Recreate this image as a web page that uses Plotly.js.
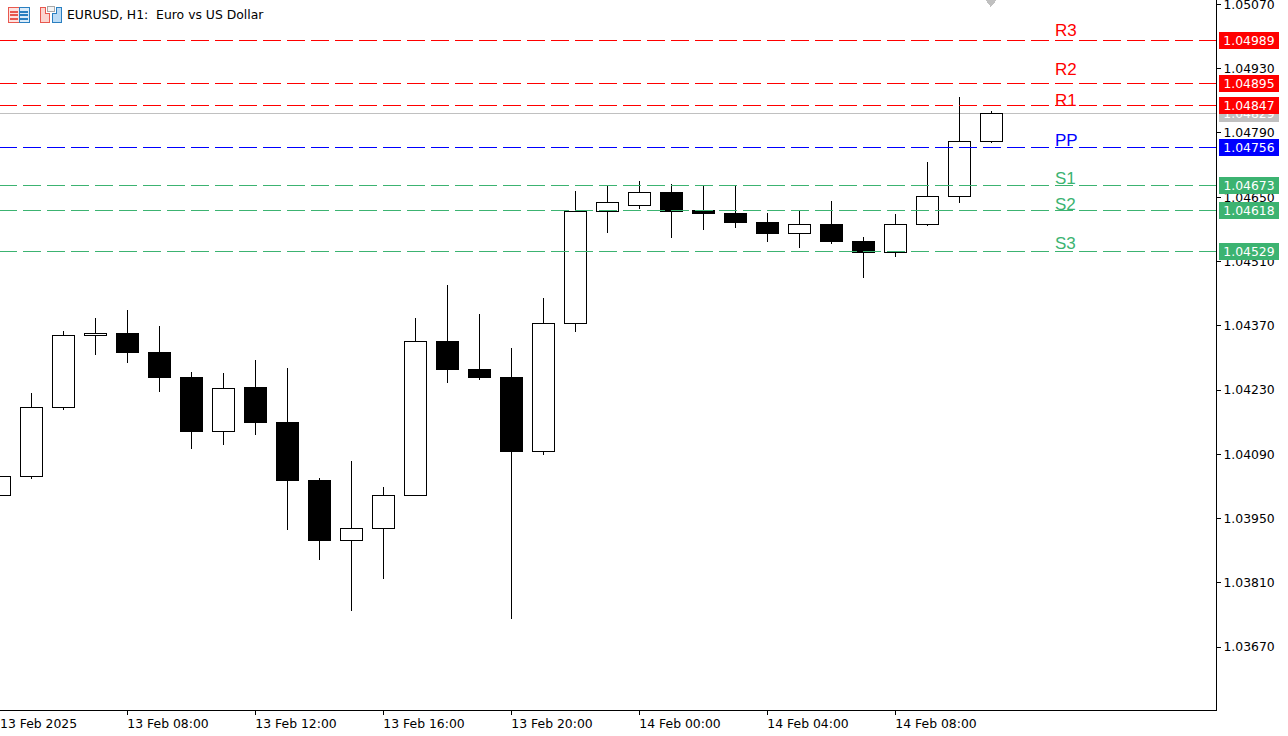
<!DOCTYPE html>
<html>
<head>
<meta charset="utf-8">
<script src="https://cdn.plot.ly/plotly-3.0.1.min.js"></script>
<style>
html,body{margin:0;padding:0;background:#fff;overflow:hidden}
#chart{width:1288px;height:736px}
#chart svg path,#chart svg line{shape-rendering:crispEdges}
#chart .boxlayer{transform:translate(.25px,.25px)}
#chart .yaxislayer-above{transform:translateY(1px)}
</style>
</head>
<body>
<div id="chart"></div>
<script>
// ---------- data ----------
const times = ["2025-02-13 04:00","2025-02-13 05:00","2025-02-13 06:00","2025-02-13 07:00","2025-02-13 08:00","2025-02-13 09:00","2025-02-13 10:00","2025-02-13 11:00","2025-02-13 12:00","2025-02-13 13:00","2025-02-13 14:00","2025-02-13 15:00","2025-02-13 16:00","2025-02-13 17:00","2025-02-13 18:00","2025-02-13 19:00","2025-02-13 20:00","2025-02-13 21:00","2025-02-13 22:00","2025-02-13 23:00","2025-02-14 00:00","2025-02-14 01:00","2025-02-14 02:00","2025-02-14 03:00","2025-02-14 04:00","2025-02-14 05:00","2025-02-14 06:00","2025-02-14 07:00","2025-02-14 08:00","2025-02-14 09:00","2025-02-14 10:00","2025-02-14 11:00"];
const opens  = [1.03999,1.04041,1.04191,1.04348,1.04352,1.04311,1.04256,1.04139,1.04233,1.04158,1.04032,1.03901,1.03927,1.03999,1.04335,1.04274,1.04256,1.04095,1.04373,1.04617,1.04630,1.04659,1.04620,1.04612,1.04594,1.04570,1.04590,1.04551,1.04528,1.04589,1.04650,1.04770];
const highs  = [1.04046,1.04222,1.04357,1.04385,1.04402,1.04368,1.04267,1.04265,1.04294,1.04276,1.04036,1.04074,1.04017,1.04385,1.04457,1.04394,1.04320,1.04429,1.04662,1.04673,1.04683,1.04677,1.04673,1.04673,1.04614,1.04618,1.04640,1.04561,1.04612,1.04725,1.04866,1.04836];
const lows   = [1.03995,1.04035,1.04185,1.04305,1.04287,1.04224,1.04100,1.04109,1.04131,1.03924,1.03858,1.03747,1.03817,1.03999,1.04244,1.04251,1.03730,1.04088,1.04355,1.04571,1.04622,1.04560,1.04577,1.04582,1.04551,1.04538,1.04547,1.04473,1.04518,1.04586,1.04636,1.04767];
const closes = [1.04041,1.04191,1.04348,1.04352,1.04311,1.04256,1.04139,1.04232,1.04158,1.04032,1.03901,1.03927,1.03999,1.04334,1.04274,1.04256,1.04095,1.04373,1.04618,1.04637,1.04659,1.04618,1.04612,1.04594,1.04570,1.04589,1.04551,1.04529,1.04589,1.04650,1.04770,1.04831];
const pivotNames  = ["R3","R2","R1","PP","S1","S2","S3"];
const pivotValues = [1.04989,1.04895,1.04847,1.04756,1.04673,1.04618,1.04529];
const pivotColors = ["#ff0000","#ff0000","#ff0000","#0000ff","#3cb371","#3cb371","#3cb371"];
const lastPriceLabel = 1.04829;
const lastArrowPrice = 1.05075;
const yTicks = [1.05070,1.04930,1.04790,1.04650,1.04510,1.04370,1.04230,1.04090,1.03950,1.03810,1.03670];
const xTickTimes = ["2025-02-13 08:00","2025-02-13 12:00","2025-02-13 16:00","2025-02-13 20:00","2025-02-14 00:00","2025-02-14 04:00","2025-02-14 08:00"];
const xTickText  = ["13 Feb 08:00","13 Feb 12:00","13 Feb 16:00","13 Feb 20:00","14 Feb 00:00","14 Feb 04:00","14 Feb 08:00"];
const firstTickText = "13 Feb 2025";
const chartTitle = "EURUSD, H1:  Euro vs US Dollar";
// ---------- style ----------
const W = 1216, H = 710;
const FONT = "DejaVu Sans, sans-serif";
const TICKSZ = 12.4;
const PX = x => x / W;
const PY = y => 1 - y / H;
const labelLift = [10.5,14,5,7.5,7,6,8];

function pathOf(pts){ return "M" + pts.map(p => PX(p[0]) + "," + PY(p[1])).join("L") + "Z"; }
function poly(pts, fill, stroke){
  return {type:"path", xref:"paper", yref:"paper", path:pathOf(pts), fillcolor:fill,
          line:{color:stroke, width:1}, layer:"above"};
}
function seg(x0,y0,x1,y1,color,w){
  return {type:"line", xref:"paper", yref:"paper", x0:PX(x0), y0:PY(y0), x1:PX(x1), y1:PY(y1),
          line:{color:color, width:w||1}, layer:"above"};
}
const icons = [
  poly([[8.5,7.5],[19,7.5],[19,22.5],[8.5,22.5]], "#fde3e0", "#e8584f"),
  poly([[19,7.5],[29.5,7.5],[29.5,22.5],[19,22.5]], "#dcecf9", "#2a7fc0"),
  seg(10,11.5,18,11.5,"#e8584f",2), seg(10,15,18,15,"#e8584f",2), seg(10,18.5,18,18.5,"#e8584f",2),
  seg(20,11.5,28,11.5,"#2a7fc0",2), seg(20,15,28,15,"#2a7fc0",2), seg(20,18.5,28,18.5,"#2a7fc0",2),
  poly([[40.5,7.5],[45.5,7.5],[45.5,13.5],[49.5,13.5],[49.5,22.5],[40.5,22.5]], "#fbd5d0", "#e8584f"),
  poly([[47.5,6.5],[54.5,6.5],[54.5,11.5],[47.5,11.5]], "#f4f4f4", "#a8a8a8"),
  poly([[56.5,7.5],[61.5,7.5],[61.5,22.5],[52.5,22.5],[52.5,13.5],[56.5,13.5]], "#bcdcf6", "#2a7fc0")
];

const levelShapes = pivotValues.map((v,i) => ({
  type:"line", xref:"paper", yref:"y", x0:PX(-1), x1:1, y0:v, y1:v,
  line:{color:pivotColors[i], width:1, dash:"18px,6px"}, layer:"above"
}));
const lastClose = closes[closes.length-1];
const lastShape = {type:"line", xref:"paper", yref:"y", x0:0, x1:1, y0:lastClose, y1:lastClose,
  line:{color:"#c0c0c0", width:1}, layer:"below"};

function priceBox(v,color,at){
  return {xref:"paper", yref:"y", x:PX(1219), y:at, xanchor:"left", yanchor:"middle",
    text:v.toFixed(5), showarrow:false, bgcolor:color, width:60, height:17, borderpad:0, borderwidth:0,
    align:"center", valign:"middle", font:{family:FONT, size:TICKSZ, color:"#ffffff"}};
}
const annotations = [
  {xref:"paper", yref:"paper", x:PX(65), y:PY(15), xanchor:"left", yanchor:"middle", text:chartTitle,
   showarrow:false, font:{family:FONT, size:12.4, color:"#000"}},
  {xref:"paper", yref:"paper", x:PX(-2), y:PY(723), xanchor:"left", yanchor:"middle", text:firstTickText,
   showarrow:false, font:{family:FONT, size:TICKSZ, color:"#000"}},
  priceBox(lastPriceLabel,"#c0c0c0",lastClose),
  ...pivotValues.map((v,i)=>priceBox(v,pivotColors[i],v)),
  ...pivotValues.map((v,i)=>({xref:"paper", yref:"y", x:PX(1053), y:v, xanchor:"left", yanchor:"middle",
    yshift:labelLift[i], text:pivotNames[i], showarrow:false,
    font:{family:"Liberation Sans, Arial, sans-serif", size:17, color:pivotColors[i]}}))
];

const traces = [
  {type:"candlestick", x:times, open:opens, high:highs, low:lows, close:closes, whiskerwidth:0,
   increasing:{line:{color:"#000",width:1}, fillcolor:"#ffffff"},
   decreasing:{line:{color:"#000",width:1}, fillcolor:"#000000"}, showlegend:false, hoverinfo:"skip"},
  {type:"scatter", mode:"markers", x:[times[times.length-1]], y:[lastArrowPrice],
   marker:{symbol:"triangle-down", size:12, color:"#c0c0c0", line:{width:0}}, showlegend:false, hoverinfo:"skip"}
];

const layout = {
  width:1288, height:736, margin:{l:0,r:72,t:0,b:26,pad:0},
  paper_bgcolor:"#ffffff", plot_bgcolor:"#ffffff", showlegend:false,
  boxgap:0.3125, boxgroupgap:0,
  xaxis:{type:"date", range:["2025-02-13 04:01:52.5","2025-02-14 18:01:52.5"], rangeslider:{visible:false},
    tickmode:"array", tickvals:xTickTimes, ticktext:xTickText, ticks:"outside", ticklen:4, tickwidth:1, tickcolor:"#000",
    ticklabelshift:41, ticklabelstandoff:-2, showgrid:false, zeroline:false, showline:true, linecolor:"#000", linewidth:1,
    tickfont:{family:FONT, size:TICKSZ, color:"#000"}, fixedrange:true},
  yaxis:{side:"right", range:[1.035309,1.050775], tickmode:"array", tickvals:yTicks,
    ticktext:yTicks.map(v=>v.toFixed(5)), ticks:"outside", ticklen:4, tickwidth:1, tickcolor:"#000",
    ticklabeloverflow:"allow", showgrid:false, zeroline:false, showline:true, linecolor:"#000", linewidth:1,
    tickfont:{family:FONT, size:TICKSZ, color:"#000"}, fixedrange:true},
  shapes:[...levelShapes, lastShape, ...icons],
  annotations:annotations
};
Plotly.newPlot("chart", traces, layout, {displayModeBar:false, staticPlot:true}).then(function(){
  // candlesticks carry a box "median" stroke at the close, unrounded: drop it so edges stay one pixel
  document.querySelectorAll("#chart .boxlayer path.box").forEach(function(p){
    var d = p.getAttribute("d");
    var second = d.indexOf("M", 1);
    if (second > 0) p.setAttribute("d", d.slice(second));
  });
});
</script>
</body>
</html>
